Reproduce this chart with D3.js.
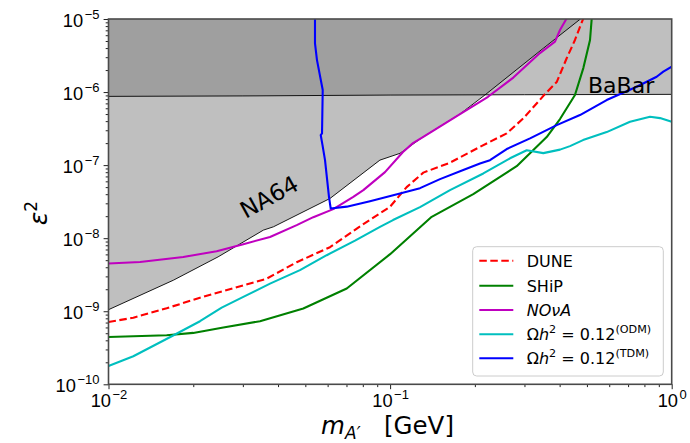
<!DOCTYPE html>
<html><head><meta charset="utf-8">
<script src="https://cdn.jsdelivr.net/npm/d3@7"></script>
<style>body{margin:0;background:#fff;} svg{display:block;font-family:"DejaVu Sans",sans-serif;}</style>
</head><body>
<svg id="chart" width="690" height="443"></svg>
<script>
// ---- data ----
const xTicks = [0.01, 0.1, 1];
const xTickExp = ["\u22122", "\u22121", "0"];
const yTicks = [1e-10, 1e-9, 1e-8, 1e-7, 1e-6, 1e-5];
const yTickExp = ["\u221210", "\u22129", "\u22128", "\u22127", "\u22126", "\u22125"];

const na64Mass = [0.01, 0.0170, 0.0245, 0.0355, 0.0385, 0.0612, 0.0920, 0.1084, 0.1312, 0.177, 0.217, 0.350, 0.474];
const na64Eps  = [1.05e-9, 2.66e-9, 5.55e-9, 1.29e-8, 1.43e-8, 3.50e-8, 1.17e-7, 1.45e-7, 2.44e-7, 5.0e-7, 9.1e-7, 3.97e-6, 1e-5];

const babarMass = [0.01, 0.03, 0.1, 0.3, 1];
const babarEps  = [8.73e-7, 8.85e-7, 9.1e-7, 9.2e-7, 9.3e-7];

const duneMass = [0.01, 0.01225, 0.01609, 0.02113, 0.02774, 0.03646, 0.0466, 0.06117, 0.08035, 0.0999, 0.1145, 0.1312, 0.1632, 0.2085, 0.2595, 0.2972, 0.3549, 0.3905, 0.4237, 0.4534, 0.4855];
const duneEps  = [7.13e-10, 8.15e-10, 1.10e-9, 1.53e-9, 2.07e-9, 2.79e-9, 4.69e-9, 7.53e-9, 1.56e-8, 2.69e-8, 5.0e-8, 7.89e-8, 1.08e-7, 1.78e-7, 2.72e-7, 4.36e-7, 9.39e-7, 1.37e-6, 2.90e-6, 5.16e-6, 1.02e-5];

const shipMass = [0.01, 0.01609, 0.02, 0.02557, 0.03451, 0.04918, 0.07015, 0.1, 0.1405, 0.1974, 0.2815, 0.3598, 0.4012, 0.4534, 0.4855, 0.5128, 0.52];
const shipEps  = [4.45e-10, 4.69e-10, 5.05e-10, 5.98e-10, 7.30e-10, 1.09e-9, 2.05e-9, 6.04e-9, 1.96e-8, 4.01e-8, 9.68e-8, 2.42e-7, 4.27e-7, 9.1e-7, 2.13e-6, 5.16e-6, 1.02e-5];

const novaMass = [0.01, 0.01294, 0.01843, 0.02422, 0.03011, 0.03746, 0.0466, 0.05337, 0.06284, 0.07401, 0.08035, 0.09592, 0.1111, 0.1206, 0.1312, 0.1771, 0.2227, 0.2739, 0.3405, 0.3851, 0.4012, 0.4237];
const novaEps  = [4.50e-9, 4.73e-9, 5.54e-9, 6.64e-9, 8.28e-9, 1.04e-8, 1.51e-8, 1.94e-8, 2.50e-8, 3.68e-8, 4.55e-8, 8.02e-8, 1.51e-7, 2.0e-7, 2.44e-7, 5.0e-7, 8.62e-7, 1.58e-6, 3.42e-6, 4.89e-6, 7.07e-6, 1.02e-5];

const odmMass = [0.01, 0.01225, 0.01677, 0.02113, 0.02523, 0.03011, 0.03746, 0.04786, 0.05955, 0.07506, 0.09206, 0.1024, 0.1277, 0.1632, 0.2143, 0.2666, 0.3056, 0.35, 0.4012, 0.4353, 0.4842, 0.5876, 0.7111, 0.8375, 0.9089, 1.0];
const odmEps  = [1.78e-10, 2.42e-10, 4.55e-10, 7.30e-10, 1.12e-9, 1.57e-9, 2.39e-9, 3.65e-9, 5.85e-9, 9.25e-9, 1.43e-8, 1.77e-8, 2.66e-8, 4.55e-8, 7.69e-8, 1.24e-7, 1.60e-7, 1.46e-7, 1.63e-7, 1.82e-7, 2.20e-7, 2.83e-7, 3.92e-7, 4.59e-7, 4.40e-7, 3.92e-7];

const tdmMass = [0.05411, 0.05411, 0.055, 0.05764, 0.05731, 0.05671, 0.05754, 0.05873, 0.06067, 0.06153, 0.07015, 0.08483, 0.1084, 0.1277, 0.1504, 0.1819, 0.2085, 0.2263, 0.2595, 0.314, 0.3905, 0.4723, 0.5876, 0.751, 0.8845, 0.9337, 1.0];
const tdmEps  = [1e-5, 4.65e-6, 2.74e-6, 1.065e-6, 2.72e-7, 2.58e-7, 1.88e-7, 1.17e-7, 3.68e-8, 2.55e-8, 2.70e-8, 3.21e-8, 4.09e-8, 4.84e-8, 6.43e-8, 8.55e-8, 1.05e-7, 1.17e-7, 1.66e-7, 2.32e-7, 3.53e-7, 4.84e-7, 7.77e-7, 1.18e-6, 1.62e-6, 1.90e-6, 2.22e-6];

const seriesNames = ["DUNE", "SHiP", "NOvA", "ODM", "TDM"];
const seriesColors = ["#ff0000", "#008000", "#bf00bf", "#00bfbf", "#0000ff"];

// ---- chart ----
const svg = d3.select("#chart");
const L = 108.5, R = 671.7, T = 19, B = 384.3;
const x = d3.scaleLog().domain([0.01, 1]).range([L, R]);
const y = d3.scaleLog().domain([1e-10, 1e-5]).range([B, T]);

svg.append("defs").append("clipPath").attr("id", "clip")
  .append("rect").attr("x", L).attr("y", T).attr("width", R - L).attr("height", B - T);

const zip = (ms, es) => ms.map((m, i) => ({m: m, e: es[i]}));
const line = d3.line().x(d => x(d.m)).y(d => y(d.e));
const plot = svg.append("g").attr("clip-path", "url(#clip)");

// NA64 region
const na64 = zip(na64Mass, na64Eps);
plot.append("path").datum(na64.concat([{m: 0.474, e: 1e-5}, {m: 0.01, e: 1e-5}]))
  .attr("d", line).attr("fill", "#808080").attr("fill-opacity", 0.5);
// BaBar region
const babar = zip(babarMass, babarEps);
plot.append("path").datum(babar.concat([{m: 1, e: 1e-5}, {m: 0.01, e: 1e-5}]))
  .attr("d", line).attr("fill", "#808080").attr("fill-opacity", 0.5);
plot.append("path").datum(na64).attr("d", line).attr("fill", "none").attr("stroke", "#000").attr("stroke-width", 0.9);
plot.append("path").datum(babar).attr("d", line).attr("fill", "none").attr("stroke", "#000").attr("stroke-width", 0.9);

const series = [zip(duneMass, duneEps), zip(shipMass, shipEps), zip(novaMass, novaEps), zip(odmMass, odmEps), zip(tdmMass, tdmEps)];
series.forEach((s, i) => {
  plot.append("path").datum(s).attr("d", line).attr("fill", "none")
    .attr("stroke", seriesColors[i]).attr("stroke-width", 2.1)
    .attr("stroke-linejoin", "round")
    .attr("stroke-dasharray", i === 0 ? "7.5,3.5" : null);
});

// text labels in plot
svg.append("text").attr("transform", "translate(273,204) rotate(-29)")
  .attr("text-anchor", "middle").attr("font-size", 23).attr("fill", "#000").text("NA64");
svg.append("text").attr("x", 588).attr("y", 93).attr("font-size", 22).attr("fill", "#000").text("BaBar");

// axes
const xMinor = [], yMinor = [];
for (let d = -2; d < 0; d++) for (let k = 2; k <= 9; k++) xMinor.push(k * Math.pow(10, d));
for (let d = -10; d < -5; d++) for (let k = 2; k <= 9; k++) yMinor.push(k * Math.pow(10, d));

function styleAxis(g) {
  g.select(".domain").remove();
  g.selectAll(".tick line").attr("stroke", "#222").attr("stroke-width", 1);
}
svg.append("g").attr("transform", `translate(0,${B})`)
  .call(d3.axisBottom(x).tickValues(xMinor).tickSize(2.8).tickFormat(() => "")).call(styleAxis);
svg.append("g").attr("transform", `translate(${L},0)`)
  .call(d3.axisLeft(y).tickValues(yMinor).tickSize(2.8).tickFormat(() => "")).call(styleAxis);

function tickLabel(t, exp) {
  t.append("tspan").text("10");
  t.append("tspan").attr("font-size", 13).attr("dx", 1.5).attr("dy", -8).text(exp);
}
const xa = svg.append("g").attr("transform", `translate(0,${B})`)
  .call(d3.axisBottom(x).tickValues(xTicks).tickSize(4.9).tickFormat(() => "")).call(styleAxis);
xa.selectAll(".tick").each(function(d, i) {
  const t = d3.select(this).append("text").attr("y", 23).attr("fill", "#000")
    .attr("font-size", 18.3).attr("text-anchor", "middle");
  tickLabel(t, xTickExp[i]);
});
const ya = svg.append("g").attr("transform", `translate(${L},0)`)
  .call(d3.axisLeft(y).tickValues(yTicks).tickSize(4.9).tickFormat(() => "")).call(styleAxis);
ya.selectAll(".tick").each(function(d, i) {
  const t = d3.select(this).append("text").attr("x", -9).attr("y", 7).attr("fill", "#000")
    .attr("font-size", 18.3).attr("text-anchor", "end");
  tickLabel(t, yTickExp[i]);
});

// frame
svg.append("rect").attr("x", L).attr("y", T).attr("width", R - L).attr("height", B - T)
  .attr("fill", "none").attr("stroke", "#4a4a4a").attr("stroke-width", 1.6);

// axis labels
const xl = svg.append("text").attr("y", 434).attr("font-size", 24.5).attr("fill", "#000");
xl.append("tspan").attr("x", 321).attr("font-style", "italic").text("m");
xl.append("tspan").attr("x", 345).attr("font-size", 17).attr("dy", 5).attr("font-style", "italic").text("A\u2032");
xl.append("tspan").attr("x", 384).attr("dy", -5).text("[GeV]");

const yl = svg.append("text").attr("transform", "translate(47,213) rotate(-90)").attr("text-anchor", "middle").attr("font-size", 25).attr("fill", "#000");
yl.append("tspan").attr("font-style", "italic").text("\u03b5");
yl.append("tspan").attr("font-size", 17).attr("dy", -10).text("2");

// legend
const lg = svg.append("g");
lg.append("rect").attr("x", 472.7).attr("y", 246.7).attr("width", 190.6).attr("height", 129.3).attr("rx", 4)
  .attr("fill", "#fff").attr("fill-opacity", 0.8).attr("stroke", "#cccccc").attr("stroke-width", 1);
const rowY = [260.7, 285.7, 310, 334.3, 358.3];
rowY.forEach((ry, i) => {
  lg.append("line").attr("x1", 479.3).attr("x2", 513.3).attr("y1", ry).attr("y2", ry)
    .attr("stroke", seriesColors[i]).attr("stroke-width", 2.1)
    .attr("stroke-dasharray", i === 0 ? "7.5,3.5" : null);
  const t = lg.append("text").attr("x", 526.7).attr("y", ry + 5.8).attr("font-size", 16).attr("fill", "#000");
  if (i === 0) t.text("DUNE");
  else if (i === 1) t.text("SHiP");
  else if (i === 2) t.append("tspan").attr("font-style", "italic").text("NO\u03bdA");
  else {
    t.append("tspan").text("\u03a9");
    t.append("tspan").attr("font-style", "italic").text("h");
    t.append("tspan").attr("font-size", 11.2).attr("dy", -7).text("2");
    t.append("tspan").attr("dy", 7).text(" = 0.12");
    t.append("tspan").attr("font-size", 11.2).attr("dy", -7).text(i === 3 ? "(ODM)" : "(TDM)");
  }
});
</script>
</body></html>
